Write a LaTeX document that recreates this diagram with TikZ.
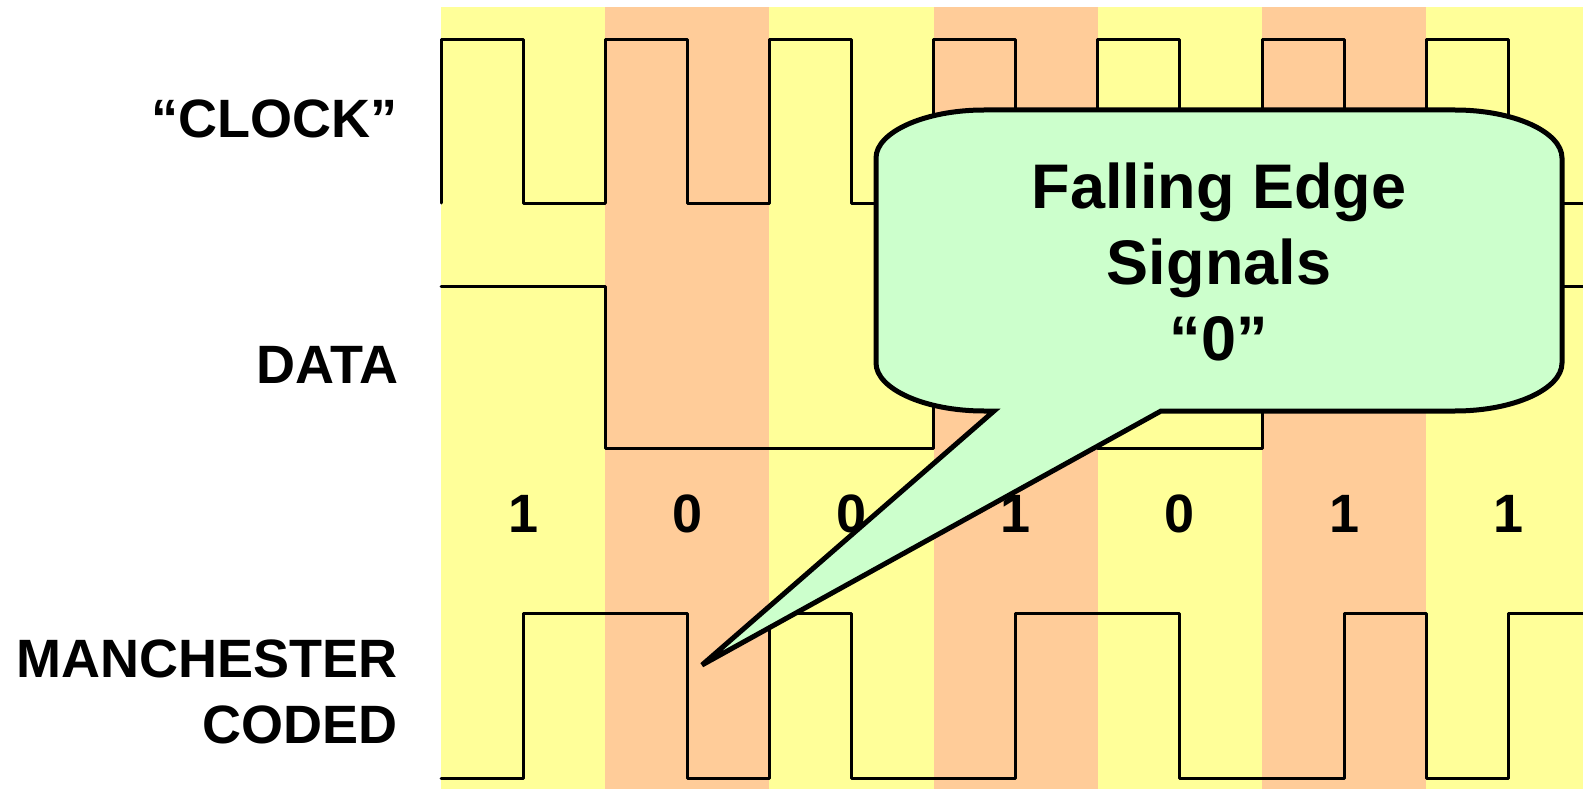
\documentclass[tikz,border=0pt]{standalone}
\usepackage{fontspec}
\setmainfont{Liberation Sans}
\usepackage{tikz}
\definecolor{bandY}{HTML}{FFFF99}
\definecolor{bandO}{HTML}{FFCC99}
\definecolor{noteG}{HTML}{CCFFCC}

\begin{document}
\begin{tikzpicture}[line cap=round,line join=round,x=1pt,y=-1pt,
  sig/.style={line width=3pt},
  lbl/.style={font=\fontsize{54}{66}\selectfont\bfseries,inner sep=0pt},
  bubble/.style={line width=5pt,line join=miter,miter limit=4,fill=noteG}]
\useasboundingbox (0,0) rectangle (1583,789);
\clip (0,0) rectangle (1583,789);
\fill[white] (0,0) rectangle (1583,789);
\fill[bandY] (441,7) rectangle (1583,789);
\foreach \i in {1,3,5}
\fill[bandO,shift={(441+164.2*\i,0)}] (0,7) rectangle (164.2,789);
\foreach \i in {0,...,6}
\draw[sig,shift={(441+164.2*\i,0)}] (0,203) -- (0,40) -- (82.1,40) -- (82.1,203) -- (164.2,203);
\draw[sig] (441,286) -- (605.2,286) -- (605.2,448) -- (933.6,448) -- (933.6,286) -- (1097.8,286) -- (1097.8,448) -- (1262,448) -- (1262,286) -- (1590,286);
\draw[sig] (441,778) -- (523.1,778) -- (523.1,613) -- (687.3,613) -- (687.3,778) -- (769.4,778) -- (769.4,613) -- (851.5,613) -- (851.5,778) -- (1015.7,778) -- (1015.7,613) -- (1179.9,613) -- (1179.9,778) -- (1344.1,778) -- (1344.1,613) -- (1426.2,613) -- (1426.2,778) -- (1508.3,778) -- (1508.3,613) -- (1590,613);
\foreach \b [count=\i from 0] in {1,0,0,1,0,1,1}
\node[lbl,anchor=base] (bit\i) at (523.1+164.2*\i,532) {\b};
\node[lbl,anchor=base east] (clk) at (398,138) {“CLOCK”};
\node[lbl,anchor=base east] (dat) at (399,383) {DATA};
\node[lbl,anchor=east,align=right] (man) at (398,692) {MANCHESTER\\CODED};
\coordinate (tip) at (702,665);
\draw[bubble] (984,110) -- (1455,110) .. controls (1514,110) and (1562,132) .. (1562,158) -- (1562,363) .. controls (1562,389) and (1514,411) .. (1455,411) -- (1161,411) -- (tip) -- (994,411) -- (984,411) .. controls (925,411) and (876,389) .. (876,363) -- (876,158) .. controls (876,132) and (925,110) .. (984,110) -- cycle;
\node[font=\fontsize{63}{76}\selectfont\bfseries,align=center,inner sep=0pt] (note) at (1219,262) {Falling Edge\\Signals\\“0”};
\end{tikzpicture}
\end{document}
